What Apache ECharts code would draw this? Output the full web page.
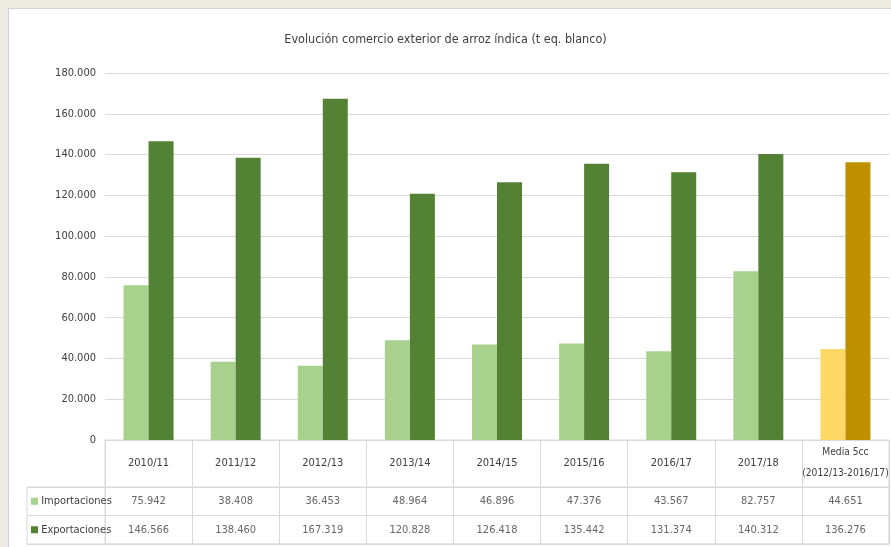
<!DOCTYPE html>
<html>
<head>
<meta charset="utf-8">
<script src="https://cdn.jsdelivr.net/npm/echarts@6/dist/echarts.min.js"></script>
<style>
html,body{margin:0;padding:0;background:#eeebe0;width:891px;height:547px;overflow:hidden;}
#paper{position:absolute;left:8px;top:8px;width:900px;height:600px;background:#fff;border-left:1.5px solid #d2d2d2;border-top:1.5px solid #d2d2d2;}
#main{position:absolute;left:0;top:0;width:891px;height:547px;}
</style>
</head>
<body>
<div id="paper"></div>
<div id="main"></div>
<script>
const categories = ['2010/11','2011/12','2012/13','2013/14','2014/15','2015/16','2016/17','2017/18','Media 5cc\n(2012/13-2016/17)'];
const importaciones = [75942, 38408, 36453, 48964, 46896, 47376, 43567, 82757, 44651];
const exportaciones = [146566, 138460, 167319, 120828, 126418, 135442, 131374, 140312, 136276];
const yTicks = {min: 0, max: 180000, interval: 20000};
const seriesNames = ['Importaciones', 'Exportaciones'];
const title = 'Evolución comercio exterior de arroz índica (t eq. blanco)';

const FONT = "'Liberation Sans Narrow','DejaVu Sans Condensed','Arial Narrow',sans-serif";
const colImp = '#a9d18e', colExp = '#548235', colImpAvg = '#ffd966', colExpAvg = '#bf9000';
const TXT = '#404040';
const LINE = '#d9d9d9';
const FS = 11;

function fmt(v){ return String(Math.round(v)).replace(/\B(?=(\d{3})+(?!\d))/g, '.'); }

const n = categories.length;
const impData = importaciones.map((v,i)=> i===n-1 ? {value:v, itemStyle:{color:colImpAvg}} : v);
const expData = exportaciones.map((v,i)=> i===n-1 ? {value:v, itemStyle:{color:colExpAvg}} : v);
const tableLabels = [];
importaciones.forEach((v,i)=>tableLabels.push([i,'Importaciones',v]));
exportaciones.forEach((v,i)=>tableLabels.push([i,'Exportaciones',v]));

const chart = echarts.init(document.getElementById('main'), null, {renderer:'canvas'});
chart.setOption({
  backgroundColor: 'transparent',
  animation: false,
  textStyle: {fontFamily: FONT},
  title: {
    text: title, left: 'center', top: 28,
    textStyle: {fontFamily: FONT, fontSize: 12.5, fontWeight: 'normal', color: TXT}
  },
  grid: [
    {left: 105, right: 2, top: 73, bottom: 107, outerBoundsMode: 'none', containLabel: false},
    {left: 105, right: 2, top: 440, bottom: 3, show: true, borderColor: LINE, borderWidth: 1, backgroundColor: 'transparent', outerBoundsMode: 'none'},
    {left: 27, right: 2, top: 487, bottom: 3, show: true, borderColor: LINE, borderWidth: 1, backgroundColor: 'transparent', outerBoundsMode: 'none'},
    {left: 105, right: 2, top: 487, bottom: 3, outerBoundsMode: 'none'}
  ],
  xAxis: [
    {type: 'category', gridIndex: 0, data: categories,
     axisLine: {show: true, lineStyle: {color: LINE}}, axisTick: {show: false},
     axisLabel: {interval: 0, margin: 23, verticalAlign: 'middle', lineHeight: 21, fontSize: FS, color: TXT, fontFamily: FONT,
       formatter: (v, i) => i === n - 1 ? v.split('\n').map(s => '{s|' + s + '}').join('\n') : v,
       rich: {s: {fontSize: 10.2, lineHeight: 21, color: TXT, fontFamily: FONT}}}},
    {type: 'category', gridIndex: 1, data: categories,
     axisLine: {show: false}, axisTick: {show: false}, axisLabel: {show: false},
     splitLine: {show: true, interval: 0, lineStyle: {color: LINE}}},
    {type: 'value', gridIndex: 2, show: false},
    {type: 'category', gridIndex: 3, data: categories, show: false}
  ],
  yAxis: [
    {type: 'value', gridIndex: 0, min: yTicks.min, max: yTicks.max, interval: yTicks.interval,
     axisLine: {show: false}, axisTick: {show: false},
     axisLabel: {margin: 9, fontSize: FS, color: TXT, fontFamily: FONT, formatter: v => fmt(v)},
     splitLine: {lineStyle: {color: LINE}}},
    {type: 'value', gridIndex: 1, show: false},
    {type: 'category', gridIndex: 2, data: ['Exportaciones','Importaciones'],
     axisLine: {show: false}, axisTick: {show: false},
     splitLine: {show: true, interval: 0, lineStyle: {color: LINE}},
     axisLabel: {inside: true, margin: 4, align: 'left', fontSize: FS, color: TXT, fontFamily: FONT,
       formatter: v => (v === 'Importaciones' ? '{a|}' : '{b|}') + ' ' + v,
       rich: {
         a: {backgroundColor: colImp, width: 7, height: 7},
         b: {backgroundColor: colExp, width: 7, height: 7}
       }}},
    {type: 'category', gridIndex: 3, data: ['Exportaciones','Importaciones'], show: false}
  ],
  series: [
    {name: seriesNames[0], type: 'bar', xAxisIndex: 0, yAxisIndex: 0, data: impData,
     barWidth: 25, barGap: '0%', itemStyle: {color: colImp}},
    {name: seriesNames[1], type: 'bar', xAxisIndex: 0, yAxisIndex: 0, data: expData,
     barWidth: 25, barGap: '0%', itemStyle: {color: colExp}},
    {type: 'scatter', xAxisIndex: 3, yAxisIndex: 3, data: tableLabels,
     symbolSize: 1, itemStyle: {color: 'rgba(0,0,0,0)'}, silent: true,
     label: {show: true, position: 'inside', fontSize: FS, color: TXT, fontFamily: FONT,
       formatter: p => fmt(p.value[2])}}
  ]
});
</script>
</body>
</html>
